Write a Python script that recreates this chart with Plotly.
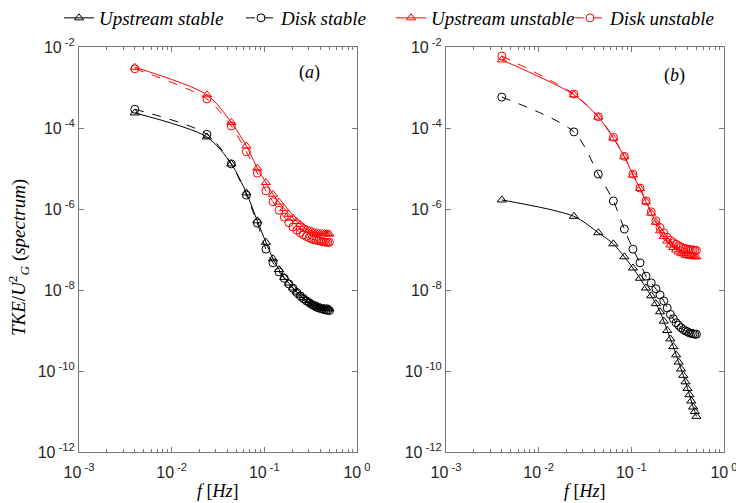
import plotly.graph_objects as go

# ---------------- data ----------------
freq = [0.004, 0.024, 0.044, 0.064, 0.084, 0.104, 0.124, 0.144, 0.164, 0.184,
        0.204, 0.224, 0.244, 0.264, 0.284, 0.304, 0.324, 0.344, 0.364, 0.384,
        0.404, 0.424, 0.444, 0.464, 0.484, 0.504]

# panel (a)
a_upstream_stable = [2.35e-4, 6.0e-5, 1.3e-5, 2.5e-6, 5.1e-7, 1.51e-7, 5.9e-8, 3.2e-8, 2.05e-8, 1.48e-8,
                     1.12e-8, 8.9e-9, 7.4e-9, 6.3e-9, 5.5e-9, 5.0e-9, 4.6e-9, 4.3e-9, 4.1e-9, 3.9e-9,
                     3.7e-9, 3.6e-9, 3.55e-9, 3.5e-9, 3.5e-9, 3.4e-9]
a_disk_stable = [2.9e-4, 7.0e-5, 1.3e-5, 2.2e-6, 4.5e-7, 1.02e-7, 4.7e-8, 2.8e-8, 1.95e-8, 1.41e-8,
                 1.1e-8, 8.7e-9, 7.2e-9, 6.2e-9, 5.4e-9, 4.9e-9, 4.4e-9, 4.1e-9, 3.8e-9, 3.6e-9,
                 3.5e-9, 3.4e-9, 3.25e-9, 3.2e-9, 3.2e-9, 3.1e-9]
a_upstream_unstable = [3.16e-3, 6.6e-4, 1.38e-4, 3.6e-5, 1.02e-5, 4.5e-6, 2.3e-6, 1.48e-6, 1.02e-6, 7.4e-7,
                       5.9e-7, 4.9e-7, 4.2e-7, 3.6e-7, 3.2e-7, 3.0e-7, 2.9e-7, 2.7e-7, 2.6e-7, 2.57e-7,
                       2.5e-7, 2.5e-7, 2.45e-7, 2.45e-7, 2.45e-7, 2.4e-7]
a_disk_unstable = [2.9e-3, 5.2e-4, 1.12e-4, 2.6e-5, 7.7e-6, 2.8e-6, 1.51e-6, 9.3e-7, 6.3e-7, 4.6e-7,
                   3.6e-7, 3.0e-7, 2.57e-7, 2.3e-7, 2.1e-7, 1.95e-7, 1.82e-7, 1.74e-7, 1.7e-7, 1.66e-7,
                   1.62e-7, 1.55e-7, 1.55e-7, 1.51e-7, 1.51e-7, 1.51e-7]

# panel (b)
b_upstream_stable = [1.67e-6, 6.6e-7, 2.6e-7, 1.38e-7, 6.6e-8, 3.5e-8, 1.95e-8, 1.12e-8, 7.2e-9, 4.6e-9,
                     2.9e-9, 1.7e-9, 1.0e-9, 6.2e-10, 4.0e-10, 2.5e-10, 1.66e-10, 1.12e-10, 7.8e-11, 5.4e-11,
                     3.7e-11, 2.6e-11, 1.82e-11, 1.29e-11, 1.0e-11, 7.6e-12]
b_disk_stable = [5.8e-4, 8.0e-5, 7.3e-6, 1.58e-6, 3.2e-7, 1.02e-7, 4.7e-8, 2.2e-8, 1.5e-8, 1.07e-8,
                 7.6e-9, 5.4e-9, 3.6e-9, 2.5e-9, 1.95e-9, 1.55e-9, 1.35e-9, 1.17e-9, 1.05e-9, 9.8e-10,
                 9.3e-10, 8.7e-10, 8.5e-10, 8.3e-10, 8.1e-10, 8.1e-10]
b_upstream_unstable = [4.8e-3, 6.6e-4, 1.86e-4, 5.6e-5, 1.95e-5, 6.9e-6, 3.2e-6, 1.51e-6, 7.9e-7, 4.7e-7,
                       2.9e-7, 2.1e-7, 1.62e-7, 1.29e-7, 1.12e-7, 9.8e-8, 8.7e-8, 8.1e-8, 7.8e-8, 7.2e-8,
                       7.1e-8, 6.9e-8, 6.8e-8, 6.8e-8, 6.6e-8, 6.6e-8]
b_disk_unstable = [6.0e-3, 6.9e-4, 1.9e-4, 5.9e-5, 2.0e-5, 7.3e-6, 3.3e-6, 1.58e-6, 8.5e-7, 5.1e-7,
                   3.5e-7, 2.57e-7, 2.0e-7, 1.7e-7, 1.48e-7, 1.35e-7, 1.23e-7, 1.15e-7, 1.07e-7, 1.05e-7,
                   1.02e-7, 1.0e-7, 9.8e-8, 9.8e-8, 9.5e-8, 9.5e-8]

series_names = ["Upstream stable", "Disk stable", "Upstream unstable", "Disk unstable"]
x_tickvals = [1e-3, 1e-2, 1e-1, 1]
x_ticktext = ["10<sup> -3</sup>", "10<sup> -2</sup>", "10<sup> -1</sup>", "10<sup> 0</sup>"]
y_tickvals = [1e-12, 1e-10, 1e-8, 1e-6, 1e-4, 1e-2]
y_ticktext = ["10<sup> -12</sup>", "10<sup> -10</sup>", "10<sup> -8</sup>", "10<sup> -6</sup>",
              "10<sup> -4</sup>", "10<sup> -2</sup>"]
x_minor = [m * 10 ** e for e in (-3, -2, -1) for m in range(2, 10)]

# ---------------- styles ----------------
styles = {
    "Upstream stable": dict(color="black", dash="solid", symbol="triangle-up-open", legend="legend2", lx=59),
    "Disk stable": dict(color="black", dash="dash", symbol="circle-open", legend="legend3", lx=241),
    "Upstream unstable": dict(color="red", dash="solid", symbol="triangle-up-open", legend="legend4", lx=391),
    "Disk unstable": dict(color="red", dash="dash", symbol="circle-open", legend="legend5", lx=570),
}

fig = go.Figure()

panel_a = [a_upstream_stable, a_disk_stable, a_upstream_unstable, a_disk_unstable]
panel_b = [b_upstream_stable, b_disk_stable, b_upstream_unstable, b_disk_unstable]

for name, ya, yb in zip(series_names, panel_a, panel_b):
    s = styles[name]
    for vals, xa, yax, show in ((ya, "x", "y", True), (yb, "x2", "y2", False)):
        fig.add_trace(go.Scatter(
            x=freq, y=vals, mode="lines+markers",
            name="<i>" + name + "</i>", legendgroup=name, showlegend=show,
            legend=s["legend"],
            xaxis=xa, yaxis=yax,
            line=dict(color=s["color"], width=1, dash=s["dash"], shape="spline", smoothing=0.8),
            marker=dict(symbol=s["symbol"], size=8, color=s["color"],
                        line=dict(color=s["color"], width=1)),
        ))

axis_col = "#777777"
tick_font = dict(family="Liberation Sans, Arial", size=16, color="#262626")

def xax(domain, anchor):
    return dict(type="log", range=[-3, 0], domain=domain, anchor=anchor,
                automargin=False,
                showline=True, linecolor=axis_col, linewidth=1, mirror="ticks",
                ticks="inside", ticklen=5, tickcolor=axis_col,
                tickmode="array", tickvals=x_tickvals, ticktext=x_ticktext,
                minor=dict(ticks="inside", ticklen=3, tickcolor=axis_col,
                           tickmode="array", tickvals=x_minor),
                ticklabelstandoff=6, ticklabeloverflow="allow",
                showgrid=False, zeroline=False, tickfont=tick_font)

def yax(domain, anchor):
    return dict(type="log", range=[-12, -2], domain=domain, anchor=anchor,
                automargin=False,
                showline=True, linecolor=axis_col, linewidth=1, mirror="ticks",
                ticks="inside", ticklen=5, tickcolor=axis_col,
                tickmode="array", tickvals=y_tickvals, ticktext=y_ticktext,
                ticklabeloverflow="allow",
                showgrid=False, zeroline=False, tickfont=tick_font)

serif = "Liberation Serif, Times New Roman"
legend_font = dict(family=serif, size=19, color="black")

ydom = [1 - 452 / 503, 1 - 47 / 503]
layout_kwargs = dict(
    width=736, height=503,
    margin=dict(l=0, r=0, t=0, b=0, autoexpand=False),
    paper_bgcolor="white", plot_bgcolor="white",
    xaxis=xax([79 / 736, 357 / 736], "y"),
    yaxis=yax(ydom, "x"),
    xaxis2=xax([446 / 736, 724 / 736], "y2"),
    yaxis2=yax(ydom, "x2"),
    showlegend=True,
)
for name in series_names:
    s = styles[name]
    layout_kwargs[s["legend"]] = dict(
        orientation="h", x=s["lx"] / 736, y=1 - 18 / 503, xanchor="left", yanchor="middle",
        font=legend_font, bgcolor="rgba(0,0,0,0)")
fig.update_layout(**layout_kwargs)

ann = [
    dict(text="(<i>a</i>)", x=309 / 736, y=1 - 73 / 503),
    dict(text="(<i>b</i>)", x=674 / 736, y=1 - 75 / 503),
    dict(text="<i>f</i> [<i>Hz</i>]", x=218 / 736, y=1 - 491 / 503),
    dict(text="<i>f</i> [<i>Hz</i>]", x=585 / 736, y=1 - 491 / 503),
]
for a in ann:
    fig.add_annotation(xref="paper", yref="paper", showarrow=False,
                       xanchor="center", yanchor="middle",
                       font=dict(family=serif, size=18, color="black"), **a)

fig.add_annotation(xref="paper", yref="paper", showarrow=False,
                   x=18 / 736, y=1 - 258 / 503, xanchor="center", yanchor="middle",
                   textangle=-90,
                   text="<i>TKE</i>/<i>U</i><sup>2</sup><sub><i>G</i></sub> (<i>spectrum</i>)",
                   font=dict(family=serif, size=19, color="black"))

fig.write_html("out.html")
